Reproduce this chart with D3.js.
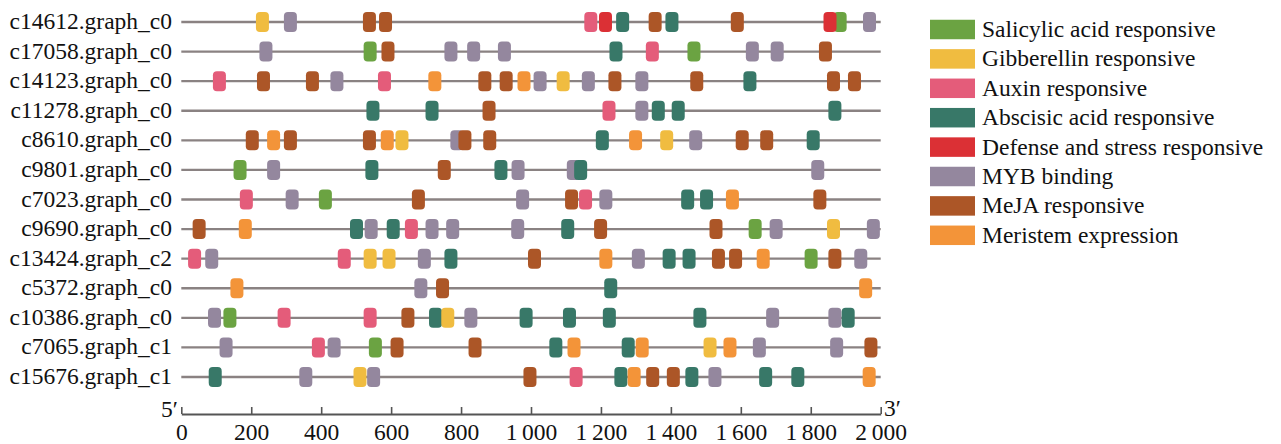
<!DOCTYPE html>
<meta charset="utf-8">

<!-- Load d3.js -->
<script src="https://d3js.org/d3.v7.min.js"></script>

<style>
    body { margin: 0; background: #fff; }
    svg text { font-family: "Liberation Serif", "Times New Roman", serif; font-size: 23.5px; fill: #111; }
</style>

<body>
<svg id="my_dataviz" width="1281" height="444"></svg>

<script>
    // genes (one promoter line each), top to bottom
    const genes = ["c14612.graph_c0", "c17058.graph_c0", "c14123.graph_c0", "c11278.graph_c0",
        "c8610.graph_c0", "c9801.graph_c0", "c7023.graph_c0", "c9690.graph_c0", "c13424.graph_c2",
        "c5372.graph_c0", "c10386.graph_c0", "c7065.graph_c1", "c15676.graph_c1"];

    // element types, legend order
    const typeCodes = ["SA", "GA", "AUX", "ABA", "DEF", "MYB", "MeJA", "MER"];
    const typeNames = ["Salicylic acid responsive", "Gibberellin responsive", "Auxin responsive",
        "Abscisic acid responsive", "Defense and stress responsive", "MYB binding",
        "MeJA responsive", "Meristem expression"];
    const typeColors = ["#6ba342", "#f0bc40", "#e45c7a", "#387868", "#db3035", "#94879e", "#ac5627", "#f39439"];

    // cis-element sites per gene: [position (bp), type]
    const sites = [
        [[232,"GA"],[312,"MYB"],[538,"MeJA"],[584,"MeJA"],[1171,"AUX"],[1213,"DEF"],[1262,"ABA"],[1355,"MeJA"],[1403,"ABA"],[1590,"MeJA"],[1884,"SA"],[1855,"DEF"],[1968,"MYB"]],
        [[242,"MYB"],[540,"SA"],[591,"MeJA"],[771,"MYB"],[836,"MYB"],[924,"MYB"],[1243,"ABA"],[1347,"AUX"],[1466,"SA"],[1633,"MYB"],[1704,"MYB"],[1842,"MeJA"]],
        [[109,"AUX"],[235,"MeJA"],[375,"MeJA"],[445,"MYB"],[581,"AUX"],[725,"MER"],[868,"MeJA"],[929,"MeJA"],[980,"MER"],[1026,"MYB"],[1092,"GA"],[1164,"MYB"],[1240,"MeJA"],[1317,"MYB"],[1474,"MeJA"],[1626,"ABA"],[1865,"MeJA"],[1925,"MeJA"]],
        [[548,"ABA"],[717,"ABA"],[880,"MeJA"],[1223,"AUX"],[1317,"MYB"],[1364,"ABA"],[1421,"ABA"],[1869,"ABA"]],
        [[203,"MeJA"],[264,"MER"],[312,"MeJA"],[538,"MeJA"],[589,"MER"],[631,"GA"],[788,"MYB"],[811,"MeJA"],[882,"MeJA"],[1204,"ABA"],[1299,"MER"],[1388,"GA"],[1471,"MYB"],[1604,"MeJA"],[1674,"MeJA"],[1807,"ABA"]],
        [[168,"SA"],[264,"MYB"],[545,"ABA"],[752,"MeJA"],[914,"ABA"],[963,"MYB"],[1121,"MYB"],[1142,"ABA"],[1820,"MYB"]],
        [[186,"AUX"],[317,"MYB"],[412,"SA"],[678,"MeJA"],[976,"MYB"],[1116,"MeJA"],[1156,"AUX"],[1214,"MYB"],[1448,"ABA"],[1502,"ABA"],[1576,"MER"],[1826,"MeJA"]],
        [[51,"MeJA"],[183,"MER"],[501,"ABA"],[543,"MYB"],[606,"ABA"],[658,"AUX"],[717,"MYB"],[776,"MYB"],[962,"MYB"],[1105,"ABA"],[1199,"MeJA"],[1529,"MeJA"],[1641,"SA"],[1701,"MYB"],[1865,"GA"],[1979,"MYB"]],
        [[38,"AUX"],[87,"MYB"],[466,"AUX"],[540,"GA"],[594,"GA"],[695,"MYB"],[771,"ABA"],[1010,"MeJA"],[1214,"MER"],[1307,"MYB"],[1395,"ABA"],[1452,"ABA"],[1536,"MeJA"],[1585,"MeJA"],[1664,"MER"],[1801,"SA"],[1869,"MeJA"],[1943,"MYB"]],
        [[159,"MER"],[685,"MYB"],[747,"MeJA"],[1228,"ABA"],[1957,"MER"]],
        [[95,"MYB"],[139,"SA"],[294,"AUX"],[540,"AUX"],[648,"MeJA"],[727,"ABA"],[762,"GA"],[828,"MYB"],[986,"ABA"],[1110,"ABA"],[1224,"ABA"],[1483,"ABA"],[1691,"MYB"],[1869,"MYB"],[1907,"ABA"]],
        [[128,"MYB"],[392,"AUX"],[437,"MYB"],[555,"SA"],[617,"MeJA"],[840,"MeJA"],[1071,"ABA"],[1123,"MER"],[1278,"ABA"],[1318,"MER"],[1512,"GA"],[1569,"MER"],[1653,"MYB"],[1874,"MYB"],[1972,"MeJA"]],
        [[97,"ABA"],[356,"MYB"],[511,"GA"],[550,"MYB"],[997,"MeJA"],[1129,"AUX"],[1257,"ABA"],[1295,"MER"],[1348,"MeJA"],[1407,"MeJA"],[1460,"ABA"],[1526,"MYB"],[1671,"ABA"],[1763,"ABA"],[1967,"MER"]]
    ];

    const tickValues = [0, 200, 400, 600, 800, 1000, 1200, 1400, 1600, 1800, 2000];
    const seqLength = 2000;

    const svg = d3.select("svg");

    const x = d3.scaleLinear().domain([0, seqLength]).range([181.3, 880.7]);
    const y = d3.scalePoint().domain(genes).range([22, 377]);
    const color = d3.scaleOrdinal().domain(typeCodes).range(typeColors);

    // promoter lines
    const rows = svg.append("g")
        .selectAll("g")
        .data(genes)
        .join("g")
            .attr("transform", d => `translate(0,${y(d)})`);

    rows.append("line")
        .attr("x1", x(0))
        .attr("x2", x(seqLength))
        .attr("stroke", "#8a8282")
        .attr("stroke-width", 2.4);

    rows.append("text")
        .attr("x", 172)
        .attr("dy", "0.3em")
        .attr("text-anchor", "end")
        .text(d => d);

    // elements
    const boxW = 13, boxH = 20;
    rows.selectAll("rect")
        .data((d, i) => sites[i])
        .join("rect")
            .attr("x", d => x(d[0]) - boxW / 2)
            .attr("y", -boxH / 2)
            .attr("width", boxW)
            .attr("height", boxH)
            .attr("rx", 4)
            .attr("fill", d => color(d[1]));

    // axis
    const fmt = d => d3.format(",")(d).replace(",", "\u2009");
    const axis = svg.append("g")
        .attr("transform", "translate(0,414)")
        .call(d3.axisBottom(x).tickValues(tickValues).tickFormat(fmt)
            .tickSizeInner(-7).tickSizeOuter(0).tickPadding(9));
    axis.attr("font-family", null).attr("font-size", null);
    axis.select(".domain").attr("stroke", "#555").attr("stroke-width", 1.8);
    axis.selectAll(".tick line").attr("stroke", "#555").attr("stroke-width", 1.6);
    axis.selectAll(".tick text").attr("fill", "#111");

    svg.append("text").attr("x", 178).attr("y", 417).attr("text-anchor", "end").text("5\u2032");
    svg.append("text").attr("x", 884).attr("y", 416).text("3\u2032");

    // legend
    const legend = svg.append("g")
        .selectAll("g")
        .data(typeCodes)
        .join("g")
            .attr("transform", (d, i) => `translate(930,${29.5 + i * 29.4})`);

    legend.append("rect")
        .attr("y", -9.75)
        .attr("width", 45)
        .attr("height", 19.5)
        .attr("fill", d => color(d));

    legend.append("text")
        .attr("x", 52)
        .attr("dy", "0.32em")
        .text((d, i) => typeNames[i]);
</script>
</body>
